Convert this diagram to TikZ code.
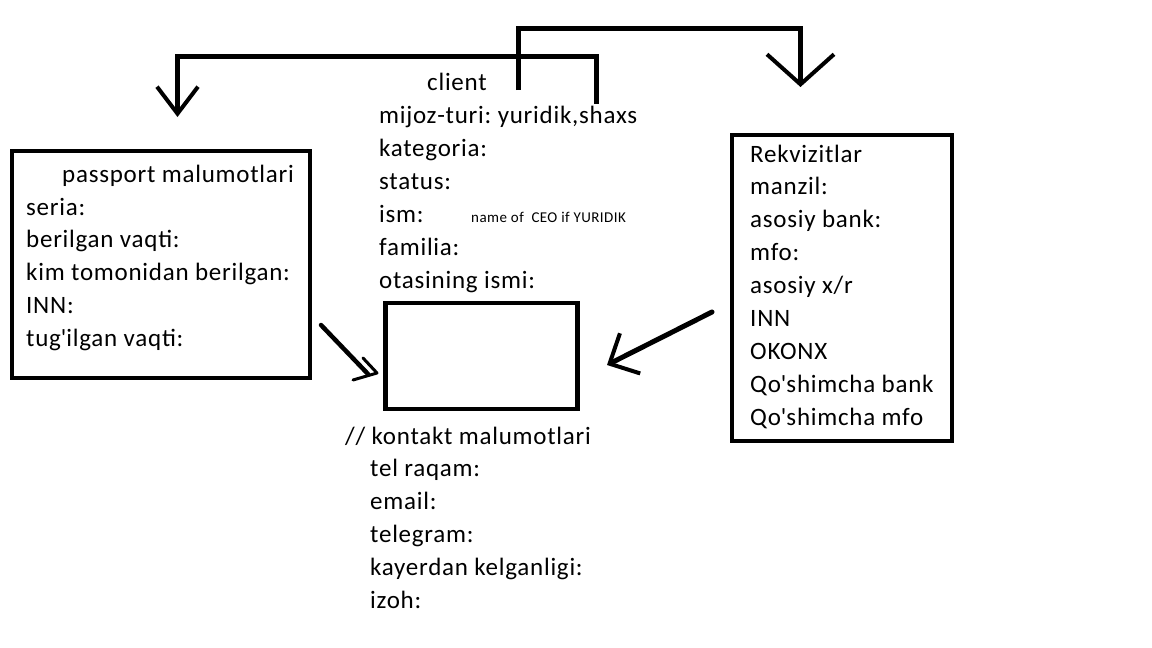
\documentclass[tikz,border=0pt]{standalone}
\usepackage{fontspec}
\setmainfont{Carlito}[LetterSpace=3]
\usetikzlibrary{arrows.meta,positioning}
\frenchspacing

\begin{document}
\begin{tikzpicture}[x=1pt,y=-1pt,
	box/.style={draw,line width=4.5pt,inner sep=0,outer sep=0,anchor=north west},
	field/.style={anchor=base west,inner sep=0,font=\fontsize{25}{33}\selectfont},
	link/.style={line width=5pt}]
	\useasboundingbox (0,0) rectangle (1152,648);
	% Boxes
	\node[box,minimum width=298pt,minimum height=227pt] (passbox) at (12,151) {};
	\node[box,minimum width=220pt,minimum height=306pt] (rekbox) at (732,135) {};
	\node[box,minimum width=192pt,minimum height=106pt] (contactbox) at (385.5,303) {};
	% passport text
	\node[field] (passtitle) at ([shift={(50,31)}]passbox.north west) {passport malumotlari};
	\foreach \txt [count=\i] in {seria:, berilgan vaqti:, kim tomonidan berilgan:, INN:, tug\textquotesingle ilgan vaqti:}
		\node[field] (pass\i) at ([shift={(14,{64+32.75*(\i-1)})}]passbox.north west) {\txt};
	% Rekvizitlar text
	\foreach \txt [count=\i] in {Rekvizitlar, manzil:, asosiy bank:, mfo:, asosiy x/r, INN, OKONX, Qo\textquotesingle shimcha bank, Qo\textquotesingle shimcha mfo}
		\node[field] (rek\i) at ([shift={(18,{27+32.9*(\i-1)})}]rekbox.north west) {\txt};
	% client text
	\node[field] (client) at (427,90) {client};
	\foreach \txt [count=\i] in {{mijoz-turi: yuridik,shaxs}, kategoria:, status:, ism:, familia:, otasining ismi:}
		\node[field] (client\i) at (379,{123+33*(\i-1)}) {\txt};
	\node[field,font=\fontsize{15}{17}\selectfont] (ceonote) at (471,222) {name of~~CEO if YURIDIK};
	% kontakt text
	\node[field] (contacttitle) at ([shift={(-40.5,35)}]contactbox.south west) {// kontakt malumotlari};
	\foreach \txt [count=\i] in {tel raqam:, email:, telegram:, kayerdan kelganligi:, izoh:}
		\node[field] (contact\i) at ([shift={(-15.5,{67+33*(\i-1)})}]contactbox.south west) {\txt};
	% Connectors
	\coordinate (c1) at (596,104);
	\coordinate (c2) at (518.5,90);
	\coordinate (passin) at (177.5,117);
	\coordinate (rekin) at (800.5,87);
	\draw[link,-{Straight Barb[length=27pt,width=41pt,line width=4pt]}] (c1) -- ++(0,-47.5) -| (passin);
	\draw[link,-{Straight Barb[length=30pt,width=67pt,line width=4pt]}] (c2) -- ++(0,-62) -| (rekin);
	% arrows into the box
	\coordinate (pout) at (321,325);
	\coordinate (pmid) at (368,374);
	\coordinate (cin1) at (377,373);
	\coordinate (rout) at (712,312);
	\coordinate (cin2) at (607,365);
	\draw[link,line width=4.5pt,line cap=round] (pout) -- (pmid);
	\draw[line width=3pt,line join=round,line cap=round] (363,358) -- (cin1) -- (353,380);
	\draw[link,line cap=round,-{Straight Barb[length=23pt,width=45pt,line width=4pt]}] (rout) -- (cin2);
\end{tikzpicture}
\end{document}
